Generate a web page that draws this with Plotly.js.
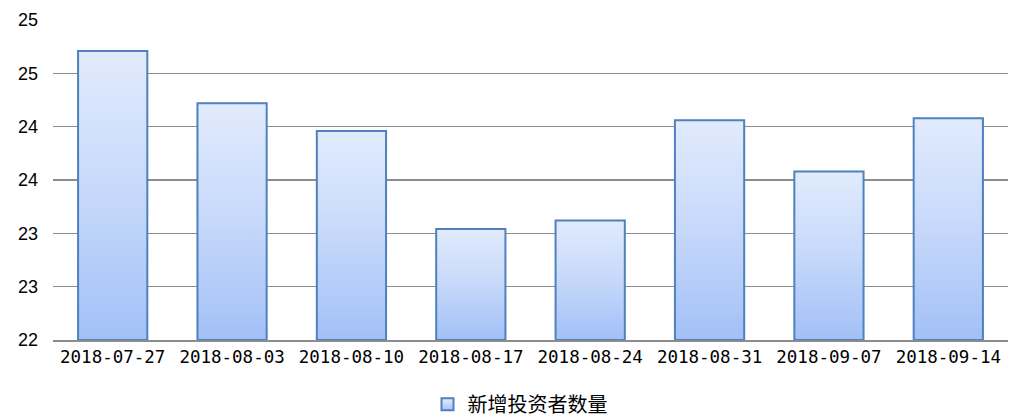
<!DOCTYPE html>
<html>
<head>
<meta charset="utf-8">
<script src="https://cdn.plot.ly/plotly-3.0.1.min.js"></script>
<style>
html,body{margin:0;padding:0;background:#fff;}
#chart{width:1009px;height:419px;}
#chart .bars path, #chart .legendpoints path { fill: url(#barGrad) !important; fill-opacity: 1 !important; }
</style>
</head>
<body>
<svg width="0" height="0" style="position:absolute;left:0;top:0" aria-hidden="true">
  <defs>
    <linearGradient id="barGrad" x1="0" y1="0" x2="0" y2="1">
      <stop offset="0" stop-color="#e1ebfd"/>
      <stop offset="0.5" stop-color="#c6d8fa"/>
      <stop offset="1" stop-color="#a2c0f7"/>
    </linearGradient>
  </defs>
</svg>
<div id="chart"></div>
<script>
const categories = ['2018-07-27','2018-08-03','2018-08-10','2018-08-17','2018-08-24','2018-08-31','2018-09-07','2018-09-14'];
const values = [24.71, 24.22, 23.96, 23.04, 23.12, 24.06, 23.58, 24.08];
const seriesName = '新增投资者数量';
const axisMin = 22;
const axisMax = 25;
const yTickVals = [22, 22.5, 23, 23.5, 24, 24.5, 25];
const yTickText = ['22', '23', '23', '24', '24', '25', '25'];

const trace = {
  type: 'bar',
  x: categories,
  y: values.map(v => v - axisMin),
  base: axisMin,
  name: seriesName,
  marker: {color: '#c6d8fa', line: {color: '#4f81bd', width: 2}},
  hoverinfo: 'x'
};

const layout = {
  width: 1009, height: 419,
  margin: {l: 53, r: 1, t: 20, b: 79, autoexpand: false},
  paper_bgcolor: '#ffffff', plot_bgcolor: '#ffffff',
  bargap: 0.42,
  showlegend: true,
  legend: {orientation: 'h', x: 0.489, xanchor: 'center', yref: 'container', y: 0.035, yanchor: 'middle',
    font: {family: 'Noto Sans CJK SC', size: 20, color: '#000'}, itemwidth: 30},
  xaxis: {type: 'category', tickfont: {family: 'DejaVu Sans Mono', size: 17.5, color: '#000'},
    showgrid: false, showline: true, linecolor: '#8c8c8c', linewidth: 1.5, ticks: '', fixedrange: true},
  yaxis: {range: [axisMin, axisMax], tickvals: yTickVals, ticktext: yTickText, showgrid: true,
    gridcolor: '#8c8c8c', gridwidth: 1.5, zeroline: false, showline: false, ticks: '',
    ticklabelstandoff: 14,
    tickfont: {family: 'Liberation Sans, Arial', size: 18, color: '#000'}, fixedrange: true},
  font: {family: 'Liberation Sans, Arial'}
};

Plotly.newPlot('chart', [trace], layout, {displayModeBar: false, staticPlot: true});
</script>
</body>
</html>
